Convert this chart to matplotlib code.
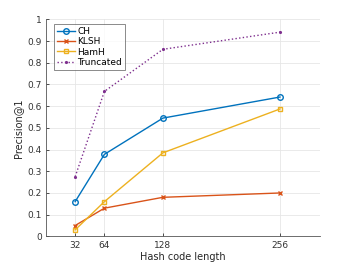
import matplotlib
matplotlib.use("Agg")
import matplotlib.pyplot as plt

lengths = [32, 64, 128, 256]
ch = [0.16, 0.378, 0.545, 0.642]
klsh = [0.05, 0.13, 0.18, 0.20]
hamh = [0.03, 0.16, 0.385, 0.587]
trunc = [0.275, 0.668, 0.862, 0.941]
yticks = [0, 0.1, 0.2, 0.3, 0.4, 0.5, 0.6, 0.7, 0.8, 0.9, 1]
ytick_labels = ["0", "0.1", "0.2", "0.3", "0.4", "0.5", "0.6", "0.7", "0.8", "0.9", "1"]

plt.rcParams['font.family'] = ['DejaVu Sans']
fig = plt.figure(figsize=(3.53, 2.65), dpi=100)
ax = fig.add_axes([0.130, 0.108, 0.777, 0.819])

ax.plot(lengths, ch, '-o', color='#0072BD', lw=1.0, ms=4, mfc='none', mew=1.0, label='CH')
ax.plot(lengths, klsh, '-x', color='#D95319', lw=1.0, ms=3.5, mew=1.0, label='KLSH')
ax.plot(lengths, hamh, '-s', color='#EDB120', lw=1.0, ms=3.5, mfc='none', mew=1.0, label='HamH')
ax.plot(lengths, trunc, ':.', color='#7E2F8E', lw=1.0, ms=2.5, label='Truncated')

ax.set_xlim(0, 300)
ax.set_ylim(0, 1)
ax.set_xticks(lengths)
ax.set_xticklabels([str(v) for v in lengths])
ax.set_yticks(yticks)
ax.set_yticklabels(ytick_labels)
ax.grid(True, color='#e6e6e6', lw=0.6)
ax.set_axisbelow(True)
for s in ['top', 'right']:
    ax.spines[s].set_visible(False)
for s in ['left', 'bottom']:
    ax.spines[s].set_color('#555555')
    ax.spines[s].set_linewidth(0.6)
ax.tick_params(direction='in', length=2.5, width=0.6, labelsize=6.5, colors='#333333', pad=3)
ax.set_xlabel('Hash code length', fontsize=7, color='#262626', labelpad=2)
ax.set_ylabel('Precision@1', fontsize=7, color='#262626', labelpad=3)

leg = ax.legend(loc='upper left', bbox_to_anchor=(0.02, 0.99), fontsize=6.5, frameon=True,
                fancybox=False, edgecolor='#555555', handlelength=2.0, borderpad=0.3,
                labelspacing=0.15, handletextpad=0.3, borderaxespad=0.3)
leg.get_frame().set_linewidth(0.6)

fig.savefig('out.png', dpi=100)
